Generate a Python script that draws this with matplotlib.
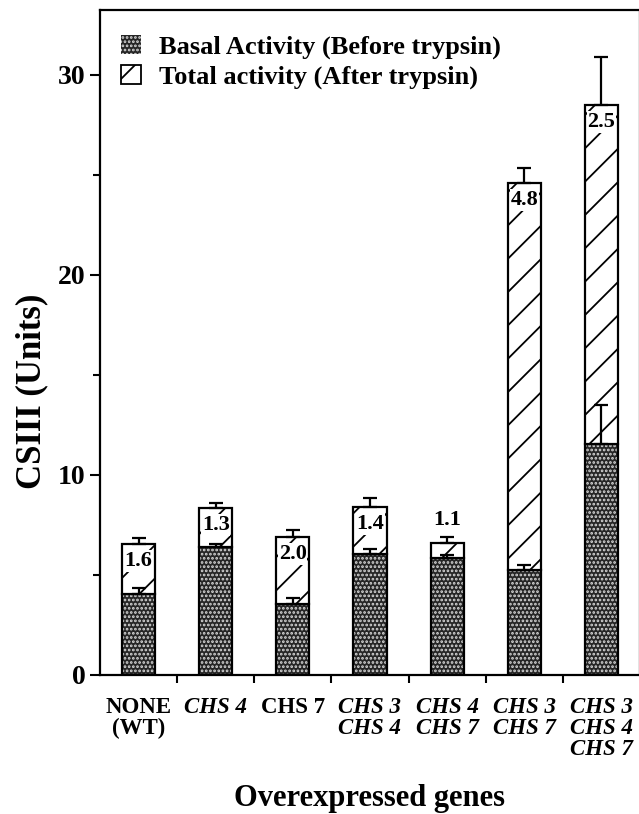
import numpy as np
import matplotlib
matplotlib.use("Agg")
import matplotlib.pyplot as plt
from matplotlib.patches import Patch
from matplotlib.ticker import FixedLocator

plt.rcParams["font.family"] = ["Liberation Serif", "DejaVu Serif"]
plt.rcParams["hatch.linewidth"] = 1.3

CATEGORIES = ["NONE\n(WT)", "CHS 4", "CHS 7", "CHS 3\nCHS 4", "CHS 4\nCHS 7",
              "CHS 3\nCHS 7", "CHS 3\nCHS 4\nCHS 7"]
ITALIC = [False, True, False, True, True, True, True]
BASAL = [4.05, 6.4, 3.55, 6.05, 5.85, 5.25, 11.55]
BASAL_ERR = [0.3, 0.15, 0.3, 0.25, 0.15, 0.25, 1.95]
TOTAL = [6.55, 8.35, 6.9, 8.4, 6.6, 24.6, 28.5]
TOTAL_ERR = [0.3, 0.25, 0.35, 0.45, 0.3, 0.75, 2.4]
RATIO = ["1.6", "1.3", "2.0", "1.4", "1.1", "4.8", "2.5"]
LABEL_ABOVE = [False, False, False, False, True, False, False]

x = np.arange(len(CATEGORIES))
basal = np.array(BASAL)
total = np.array(TOTAL)
W = 0.43

fig = plt.figure(figsize=(6.39, 8.14), dpi=100)
ax = fig.add_axes([0.1565, 0.1708, 0.845, 0.817])

# basal: dark fill with light dot pattern, then black outline
ax.bar(x, basal, W, color="#262626", edgecolor="#d8d8d8", hatch="....", linewidth=0)
ax.bar(x, basal, W, fill=False, edgecolor="black", linewidth=1.6)
# total: hatched part on top
ax.bar(x, total - basal, W, bottom=basal, color="white", edgecolor="black",
       hatch="/", linewidth=1.6)

zeros = np.zeros(len(x))
ax.errorbar(x, basal, yerr=[zeros, BASAL_ERR], fmt="none", ecolor="black",
            elinewidth=1.6, capsize=5, capthick=1.6)
ax.errorbar(x, total, yerr=[zeros, TOTAL_ERR], fmt="none", ecolor="black",
            elinewidth=1.6, capsize=5, capthick=1.6)

for xi, t, r, above in zip(x, total, RATIO, LABEL_ABOVE):
    if above:
        ax.text(xi, t + 1.15, r, ha="center", va="center", fontsize=16, fontweight="bold")
    else:
        ax.text(xi, t - 0.85, r, ha="center", va="center", fontsize=16, fontweight="bold",
                bbox=dict(facecolor="white", edgecolor="none", pad=0.5))

ax.set_xlim(-0.5, 6.5)
ax.set_ylim(0, 33.25)
ax.set_yticks([0, 10, 20, 30])
ax.set_yticklabels(["0", "10", "20", "30"], fontsize=20, fontweight="bold")
ax.yaxis.set_minor_locator(FixedLocator([5, 15, 25]))
ax.tick_params(axis="y", which="major", length=7, width=1.5, direction="out")
ax.tick_params(axis="y", which="minor", length=5, width=1.5, direction="out")

ax.set_xticks(x)
ax.set_xticklabels(CATEGORIES, fontsize=16.5, fontweight="bold", va="top",
                   linespacing=1.0)
for lbl, it in zip(ax.get_xticklabels(), ITALIC):
    if it:
        lbl.set_style("italic")
ax.xaxis.set_minor_locator(FixedLocator(np.arange(0.5, 6.5, 1.0)))
ax.tick_params(axis="x", which="major", length=0, pad=16)
ax.tick_params(axis="x", which="minor", length=6, width=1.5, direction="out")

for s in ax.spines.values():
    s.set_linewidth(1.6)

ax.set_ylabel("CSIII (Units)", fontsize=25, fontweight="bold")
ax.yaxis.set_label_coords(-0.095, 0.426)
ax.set_xlabel("Overexpressed genes", fontsize=22, fontweight="bold", va="top")
ax.xaxis.set_label_coords(0.5, -0.164)

handles = [
    Patch(facecolor="#262626", edgecolor="#d8d8d8", hatch="....", linewidth=0),
    Patch(facecolor="white", edgecolor="black", hatch="/", linewidth=1.3),
]
ax.legend(handles, ["Basal Activity (Before trypsin)", "Total activity (After trypsin)"],
          loc="upper left", bbox_to_anchor=(0.039, 0.963), frameon=False,
          borderaxespad=0, borderpad=0,
          prop={"size": 19, "weight": "bold"}, handlelength=0.76, handleheight=0.76,
          handletextpad=0.68, labelspacing=0.22)

fig.savefig("out.png", dpi=100)
